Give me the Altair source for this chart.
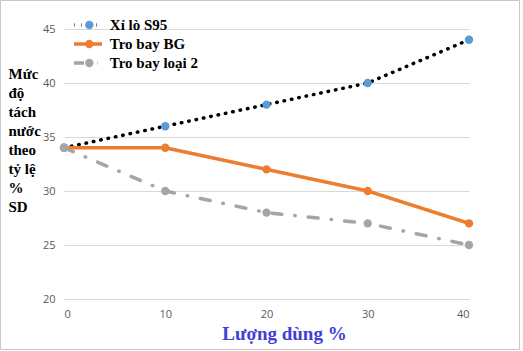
import altair as alt
import pandas as pd

x_vals = [0, 10, 20, 30, 40]
series_names = ["Xỉ lò S95", "Tro bay BG", "Tro bay loại 2"]
s95 = [34, 36, 38, 40, 44]
bg = [34, 34, 32, 30, 27]
loai2 = [34, 30, 28, 27, 25]
y_ticks = [20, 25, 30, 35, 40, 45]
x_ticks = [0, 10, 20, 30, 40]

rows = []
for name, vals in zip(series_names, [s95, bg, loai2]):
    for xv, yv in zip(x_vals, vals):
        rows.append({"x": xv, "y": yv, "series": name, "series_p": name,
                     "k": series_names.index(name)})
df = pd.DataFrame(rows)

line_colors = ["#000000", "#ED7D31", "#A5A5A5"]
point_colors = ["#5B9BD5", "#ED7D31", "#A5A5A5"]
dashes = [[0.5, 7], [1, 0], [10, 13, 0.5, 13]]

line_legend = alt.Legend(
    title=None, orient="none", legendX=8, legendY=-12, padding=0,
    symbolType="stroke", symbolSize=784, symbolStrokeWidth=3.5,
    labelFont="Liberation Serif", labelFontWeight="bold", labelFontSize=15,
    labelExpr="''", rowPadding=3, clipHeight=16, labelOffset=0, zindex=0,
)
point_legend = alt.Legend(
    title=None, orient="none", legendX=17.8, legendY=-12, padding=0,
    symbolType="circle", symbolSize=70, symbolStrokeWidth=0,
    labelFont="Liberation Serif", labelFontWeight="bold", labelFontSize=15,
    labelColor="#000000", rowPadding=3, clipHeight=16, labelOffset=13, zindex=2,
)

x_enc = alt.X("x:Q", scale=alt.Scale(domain=[0, 40], nice=False, zero=False),
              axis=alt.Axis(values=x_ticks, grid=False, domain=False, ticks=False,
                            labelPadding=9, labelFont="Open Sans", labelFontSize=11,
                            labelColor="#595959",
                            title="Lượng dùng %", titleFont="Liberation Serif",
                            titleFontSize=19, titleFontWeight="bold", titleColor="#3F3FD8",
                            titleX=220, titleY=40, titleAlign="center",
                            titleBaseline="alphabetic"))
y_enc = alt.Y("y:Q", scale=alt.Scale(domain=[20, 45], nice=False, zero=False),
              axis=alt.Axis(values=y_ticks, grid=True, gridColor="#D9D9D9", domain=False,
                            ticks=False, labelPadding=9, labelFont="Open Sans",
                            labelFontSize=11, labelColor="#595959",
                            title=["Mức", "\u00a0độ", "tách", "nước", "theo", "tỷ lệ", "%", "SD"],
                            titleFont="Liberation Serif", titleFontSize=15,
                            titleFontWeight="bold", titleColor="#000000", titleAngle=0,
                            titleAlign="left", titleBaseline="alphabetic",
                            titleX=-56, titleY=49, titleLineHeight=19))

lines = alt.Chart(df).mark_line(strokeWidth=3.5, strokeCap="round").encode(
    x=x_enc, y=y_enc,
    stroke=alt.Stroke("series:N", scale=alt.Scale(domain=series_names, range=line_colors),
                      legend=line_legend),
    strokeDash=alt.StrokeDash("series:N", scale=alt.Scale(domain=series_names, range=dashes),
                              legend=line_legend),
    detail="series:N",
)

points = alt.Chart(df).mark_point(filled=True, size=70, opacity=1, strokeWidth=0).encode(
    x="x:Q", y="y:Q",
    fill=alt.Fill("series_p:N", sort=series_names,
                  scale=alt.Scale(range=point_colors),
                  legend=point_legend),
    order=alt.Order("k:Q"),
)

frame = alt.Chart(pd.DataFrame({"a": [0]})).mark_rect(fill=None, stroke="#C8C8C8", strokeWidth=1).encode(
    x=alt.value(-63.5), x2=alt.value(455.5), y=alt.value(-28.5), y2=alt.value(320.5)
)

chart = alt.layer(lines, points, frame).properties(
    width=405, height=270,
    padding={"left": 64, "top": 29, "right": 54, "bottom": 52},
    autosize=alt.AutoSizeParams(type="none"),
    background="white",
).configure_view(stroke=None)

chart.save("out.html", embed_options={"renderer": "svg", "actions": False})
